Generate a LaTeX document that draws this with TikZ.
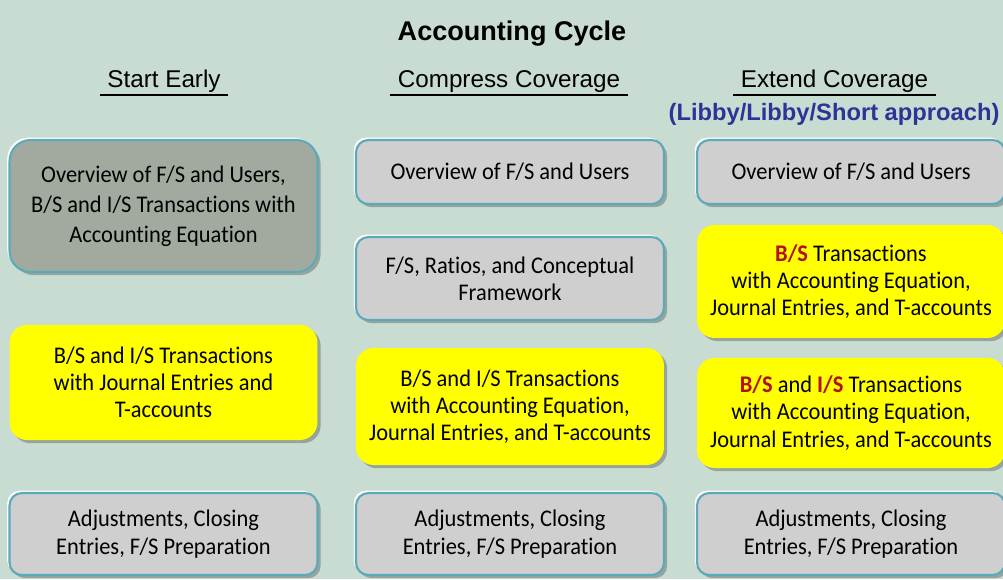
\documentclass[tikz,border=0pt]{standalone}
\usepackage{fontspec}
\setmainfont{Carlito}[Ligatures=NoCommon, FakeStretch=0.94]
\newfontfamily\headfont{Liberation Sans}
\usetikzlibrary{shadows}
\definecolor{sagebg}{RGB}{201,220,210}
\definecolor{boxgray}{RGB}{207,207,207}
\definecolor{boxdark}{RGB}{162,170,159}
\definecolor{rimteal}{RGB}{90,170,186}
\definecolor{hotyellow}{RGB}{255,255,0}
\definecolor{bsred}{RGB}{176,16,22}
\definecolor{libbyblue}{RGB}{44,52,150}
\newcommand{\bsr}[1]{\textcolor{bsred}{\textbf{#1}}}

\begin{document}
\begin{tikzpicture}[x=0.02cm, y=-0.02cm]
        \tikzstyle{every node}=[align=center, inner sep=0pt, font=\fontsize{13.6}{15.5}\selectfont]
        \tikzstyle{head}=[font=\headfont\fontsize{13.8}{16}\selectfont, anchor=base, inner xsep=4pt, text depth=4.5pt]
        \tikzstyle{card}=[minimum width=6.16cm, drop shadow={fill=black, opacity=0.25, shadow xshift=1.8pt, shadow yshift=-1.8pt}]
        \tikzstyle{graybox}=[card, draw=rimteal, line width=1.2pt, fill=boxgray, rounded corners=7pt,
            general shadow={fill=white, shadow xshift=-1.3pt, shadow yshift=1.3pt}]
        \tikzstyle{yellowbox}=[card, fill=hotyellow, rounded corners=10pt]

        \useasboundingbox[fill=sagebg] (0,0) rectangle (1003,579);

        % titles
        \node (title) at (512,40) [anchor=base, font=\headfont\bfseries\fontsize{15.4}{18}\selectfont] {Accounting Cycle};
        \node (se)    at (164,87)   [head] {Start Early};
        \node (cc)    at (509,87)   [head] {Compress Coverage};
        \node (ec)    at (834.5,87) [head] {Extend Coverage};
        \node (lls)   at (834,120)  [anchor=base, text=libbyblue, font=\headfont\bfseries\fontsize{13.5}{16}\selectfont] {(Libby/Libby/Short approach)};
        \foreach \h in {se, cc, ec}
            \draw[line width=1.4pt] (\h.south west) -- (\h.south east);

        % start early
        \node (s1) at (163.5,206)   [graybox, fill=boxdark, rounded corners=12pt, minimum height=2.64cm, font=\fontsize{13.6}{17}\selectfont]
            {Overview of F/S and Users,\\B/S and I/S Transactions with\\Accounting Equation};
        \node (s2) at (163.5,382.5) [yellowbox, minimum height=2.3cm]
            {B/S and I/S Transactions\\with Journal Entries and\\T-accounts};
        \node (s3) at (163.5,534)   [graybox, minimum height=1.64cm]
            {Adjustments, Closing\\Entries, F/S Preparation};

        % compress coverage
        \node (c1) at (510,172)   [graybox, minimum height=1.28cm] {Overview of F/S and Users};
        \node (c2) at (510,278.5) [graybox, minimum height=1.66cm] {F/S, Ratios, and Conceptual\\Framework};
        \node (c3) at (510,406.5) [yellowbox, minimum height=2.34cm]
            {B/S and I/S Transactions\\with Accounting Equation,\\Journal Entries, and T-accounts};
        \node (c4) at (510,534)   [graybox, minimum height=1.64cm]
            {Adjustments, Closing\\Entries, F/S Preparation};

        % extend coverage
        \node (e1) at (851,172)   [graybox, minimum height=1.28cm] {Overview of F/S and Users};
        \node (e2) at (851,281.5) [yellowbox, minimum height=2.26cm]
            {\bsr{B/S} Transactions\\with Accounting Equation,\\Journal Entries, and T-accounts};
        \node (e3) at (851,413)   [yellowbox, minimum height=2.2cm]
            {\bsr{B/S} and \bsr{I/S} Transactions\\with Accounting Equation,\\Journal Entries, and T-accounts};
        \node (e4) at (851,534)   [graybox, minimum height=1.64cm]
            {Adjustments, Closing\\Entries, F/S Preparation};
\end{tikzpicture}
\end{document}
